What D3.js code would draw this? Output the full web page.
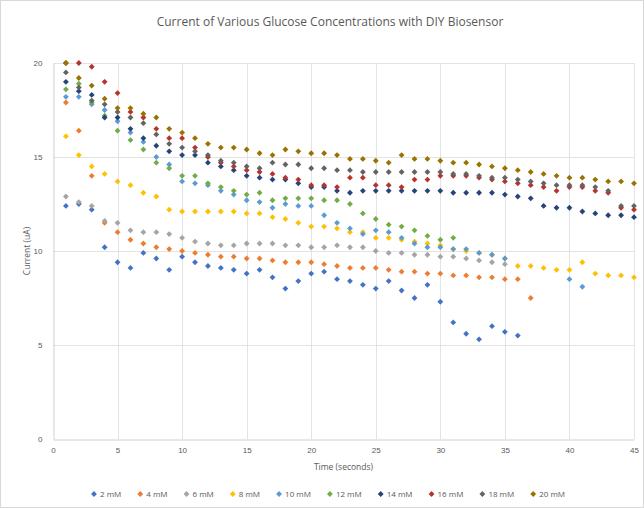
<!DOCTYPE html>
<html>
<head>
<meta charset="utf-8">
<script src="https://cdn.jsdelivr.net/npm/d3@7"></script>
<style>
  body { margin: 0; background: #fff; }
  svg { display: block; font-family: "Open Sans", sans-serif; }
</style>
</head>
<body>
<svg id="chart" width="644" height="508"></svg>
<script>
// time in seconds, one reading per second
var times = [1,2,3,4,5,6,7,8,9,10,11,12,13,14,15,16,17,18,19,20,21,22,23,24,25,26,27,28,29,30,31,32,33,34,35,36,37,38,39,40,41,42,43,44,45];

var seriesNames = ['2 mM','4 mM','6 mM','8 mM','10 mM','12 mM','14 mM','16 mM','18 mM','20 mM'];
var seriesColors = ['#4472C4','#ED7D31','#A5A5A5','#FFC000','#5B9BD5','#70AD47','#264478','#B8332C','#636363','#997300'];

// current (uA), index i is t = i + 1
var c2 = [12.4,12.5,12.2,10.2,9.4,9.1,9.9,9.6,9.0,9.7,9.4,9.2,9.1,9.0,8.8,9.0,8.6,8.0,8.4,8.8,8.9,8.5,8.4,8.2,8.0,8.4,7.9,7.5,8.2,7.3,6.2,5.6,5.3,6.0,5.7,5.5];
var c4 = [17.9,16.4,14.0,11.5,11.0,10.6,10.4,10.2,10.1,10.0,9.9,9.8,9.7,9.7,9.6,9.6,9.5,9.4,9.4,9.4,9.3,9.2,9.1,9.1,9.1,9.0,8.9,8.9,8.8,8.8,8.7,8.7,8.6,8.6,8.5,8.5,7.5];
var c6 = [12.9,12.6,12.4,11.6,11.5,11.1,11.0,11.0,10.9,10.7,10.5,10.4,10.3,10.3,10.4,10.4,10.4,10.3,10.3,10.2,10.2,10.3,10.2,10.2,10.0,9.9,9.9,9.8,9.8,9.7,9.7,9.6,9.5,9.4,9.3];
var c8 = [16.1,15.1,14.5,14.1,13.7,13.5,13.1,12.9,12.2,12.1,12.1,12.1,12.1,12.1,12.0,12.0,11.8,11.7,11.5,11.3,11.3,11.2,11.0,11.0,10.7,10.7,10.6,10.5,10.4,10.3,10.1,10.0,9.9,9.8,9.6,9.2,9.2,9.1,9.0,9.0,9.4,8.8,8.7,8.7,8.6];
var c10 = [18.2,18.2,17.8,17.5,16.9,16.3,15.8,15.0,14.6,13.7,13.6,13.5,13.2,13.0,12.7,12.6,12.3,12.5,12.4,12.4,11.9,11.5,11.2,10.9,11.1,11.0,10.7,10.4,10.2,10.2,10.1,10.1,9.9,9.8,9.6,null,null,null,null,8.5,8.1];
var c12 = [18.6,18.9,17.9,17.2,16.4,15.9,15.4,14.7,14.4,14.0,14.0,13.6,13.4,13.2,13.0,13.1,12.7,12.8,12.8,12.8,12.7,12.7,12.5,12.0,11.7,11.4,11.3,11.1,10.8,10.6,10.7];
var c14 = [19.0,18.5,18.3,17.1,17.1,16.5,16.0,15.6,15.3,15.1,15.1,14.7,14.5,14.3,14.0,13.9,13.8,13.8,13.6,13.4,13.4,13.2,13.1,13.2,13.2,13.2,13.2,13.2,13.2,13.2,13.1,13.1,13.1,13.1,13.0,12.9,12.8,12.4,12.3,12.3,12.1,12.0,11.9,11.9,11.8];
var c16 = [20.0,20.0,19.8,19.0,18.4,17.4,17.1,16.5,16.0,16.0,15.5,15.0,14.7,14.5,14.3,14.2,14.1,13.9,13.8,13.5,13.5,13.4,13.9,13.9,13.5,13.5,13.4,13.8,13.8,14.0,14.0,14.0,13.9,13.8,13.7,13.6,13.5,13.4,13.2,13.4,13.4,13.2,13.1,12.3,12.2];
var c18 = [19.5,18.7,18.0,17.8,17.4,17.1,16.8,16.2,15.7,15.5,15.3,15.1,14.8,14.7,14.5,14.4,14.7,14.6,14.6,14.4,14.4,14.3,14.3,14.2,14.2,14.2,14.2,14.2,14.2,14.2,14.1,14.1,14.0,13.9,13.9,13.8,13.7,13.6,13.5,13.5,13.5,13.4,13.2,12.4,12.4];
var c20 = [20.0,19.2,18.8,18.1,17.6,17.6,17.3,17.1,16.5,16.3,16.0,15.7,15.5,15.5,15.4,15.2,15.1,15.4,15.3,15.2,15.2,15.1,14.9,14.9,14.8,14.7,15.1,14.9,14.9,14.8,14.7,14.7,14.6,14.5,14.4,14.3,14.2,14.1,14.0,13.9,13.9,13.8,13.7,13.7,13.6];

var seriesValues = [c2, c4, c6, c8, c10, c12, c14, c16, c18, c20];

var xTicks = [0,5,10,15,20,25,30,35,40,45];
var yTicks = [0,5,10,15,20];

var W = 644, H = 508;
var margin = { left: 53, right: 10, top: 63, bottom: 69 };

var svg = d3.select('#chart');

svg.append('rect')
  .attr('x', 0.5).attr('y', 0.5)
  .attr('width', W - 1).attr('height', H - 1)
  .attr('fill', '#fff').attr('stroke', '#d9d9d9');

var x = d3.scaleLinear().domain([0, 45]).range([margin.left, W - margin.right]);
var y = d3.scaleLinear().domain([0, 20]).range([H - margin.bottom, margin.top]);

// gridlines
var grid = svg.append('g');
grid.selectAll('line.h').data(yTicks.slice(1)).enter().append('line')
  .attr('x1', x(0)).attr('x2', x(45))
  .attr('y1', function(d) { return Math.round(y(d)) + 0.5; })
  .attr('y2', function(d) { return Math.round(y(d)) + 0.5; })
  .attr('stroke', '#e3e3e3');
grid.selectAll('line.v').data(xTicks.slice(1)).enter().append('line')
  .attr('y1', y(0)).attr('y2', y(20))
  .attr('x1', function(d) { return Math.round(x(d)) + 0.5; })
  .attr('x2', function(d) { return Math.round(x(d)) + 0.5; })
  .attr('stroke', '#e3e3e3');

// axes
var xAxis = svg.append('g')
  .attr('transform', 'translate(0,' + (Math.round(y(0)) + 0.5) + ')')
  .call(d3.axisBottom(x).tickValues(xTicks).tickSize(0).tickPadding(8));
var yAxis = svg.append('g')
  .attr('transform', 'translate(' + (Math.round(x(0)) + 0.5) + ',0)')
  .call(d3.axisLeft(y).tickValues(yTicks).tickSize(0).tickPadding(11));

[xAxis, yAxis].forEach(function(a) {
  a.select('.domain').attr('stroke', '#d0d0d0');
  a.selectAll('text').attr('fill', '#595959').style('font-size', '8px');
});

// points: excel-style diamond (square turned 45 degrees)
var symbol = d3.symbol().type(d3.symbolSquare).size(17);
seriesValues.forEach(function(vals, si) {
  var pts = vals.map(function(v, i) { return { t: times[i], v: v }; })
    .filter(function(p) { return p.v !== null; });
  svg.append('g').selectAll('path').data(pts).enter().append('path')
    .attr('d', symbol)
    .attr('transform', function(p) { return 'translate(' + x(p.t) + ',' + y(p.v) + ') rotate(45)'; })
    .attr('fill', seriesColors[si]);
});

// titles
svg.append('text')
  .attr('x', 330).attr('y', 26)
  .attr('text-anchor', 'middle')
  .attr('fill', '#595959')
  .style('font-size', '12px')
  .text('Current of Various Glucose Concentrations with DIY Biosensor');

svg.append('text')
  .attr('x', (x(0) + x(45)) / 2).attr('y', 470)
  .attr('text-anchor', 'middle')
  .attr('fill', '#595959')
  .style('font-size', '8.5px')
  .text('Time (seconds)');

svg.append('text')
  .attr('transform', 'translate(30,' + ((y(0) + y(20)) / 2) + ') rotate(-90)')
  .attr('text-anchor', 'middle')
  .attr('fill', '#595959')
  .style('font-size', '8.5px')
  .text('Current (uA)');

// legend
var legend = svg.append('g').attr('transform', 'translate(94,494)');
var lx = 0;
seriesNames.forEach(function(name, si) {
  var item = legend.append('g').attr('transform', 'translate(' + lx + ',0)');
  item.append('path').attr('d', symbol).attr('transform', 'rotate(45)').attr('fill', seriesColors[si]);
  var t = item.append('text')
    .attr('x', 6).attr('dy', '0.35em')
    .attr('fill', '#595959')
    .style('font-size', '8px')
    .text(name);
  lx += 6 + t.node().getComputedTextLength() + 19;
});
</script>
</body>
</html>
